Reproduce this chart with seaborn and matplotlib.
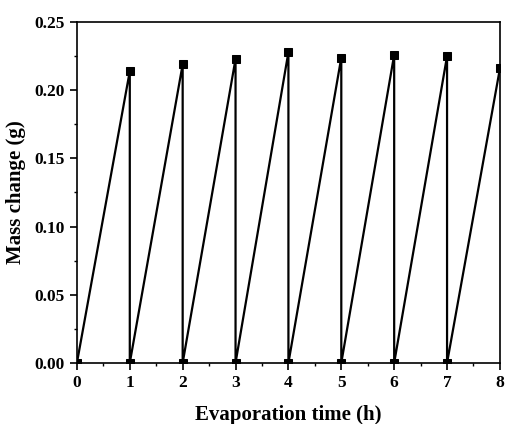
import matplotlib
matplotlib.use("Agg")
import matplotlib.pyplot as plt
import seaborn as sns
import pandas as pd
from matplotlib.ticker import MultipleLocator

hours = [0, 1, 1, 2, 2, 3, 3, 4, 4, 5, 5, 6, 6, 7, 7, 8]
mass = [0.0, 0.214, 0.0, 0.219, 0.0, 0.223, 0.0, 0.228, 0.0,
        0.224, 0.0, 0.226, 0.0, 0.225, 0.0, 0.216]

df = pd.DataFrame({"t": hours, "m": mass})

sns.set_style("ticks")
plt.rcParams["font.family"] = ["Liberation Serif", "DejaVu Serif"]
plt.rcParams["font.weight"] = "bold"
plt.rcParams["text.color"] = "black"
plt.rcParams["axes.labelcolor"] = "black"
plt.rcParams["xtick.color"] = "black"
plt.rcParams["ytick.color"] = "black"
plt.rcParams["xtick.labelcolor"] = "black"
plt.rcParams["ytick.labelcolor"] = "black"

fig = plt.figure(figsize=(5.06, 4.24), dpi=100)
ax = fig.add_axes([0.152, 0.144, 0.836, 0.804])

sns.lineplot(data=df, x="t", y="m", sort=False, estimator=None, ax=ax,
             color="black", lw=1.6, marker="s", markersize=6,
             markeredgecolor="black")

ax.set_xlim(0, 8)
ax.set_ylim(0, 0.25)
ax.xaxis.set_major_locator(MultipleLocator(1))
ax.xaxis.set_minor_locator(MultipleLocator(0.5))
ax.yaxis.set_major_locator(MultipleLocator(0.05))
ax.yaxis.set_minor_locator(MultipleLocator(0.025))
ax.set_yticklabels([f"{v:.2f}" for v in ax.get_yticks()])
ax.tick_params(which="major", direction="out", length=5, width=1.2, labelsize=12.5,
               color="black", labelcolor="black")
ax.tick_params(which="minor", direction="out", length=2.5, width=1.0, color="black")
for lab in ax.get_xticklabels() + ax.get_yticklabels():
    lab.set_fontweight("bold")
for s in ax.spines.values():
    s.set_visible(True)
    s.set_linewidth(1.2)
    s.set_color("black")

ax.set_xlabel("Evaporation time (h)", fontsize=15, fontweight="bold", labelpad=10, color="black")
ax.set_ylabel("Mass change (g)", fontsize=15, fontweight="bold", labelpad=6, color="black")

fig.savefig("out.png", dpi=100)
